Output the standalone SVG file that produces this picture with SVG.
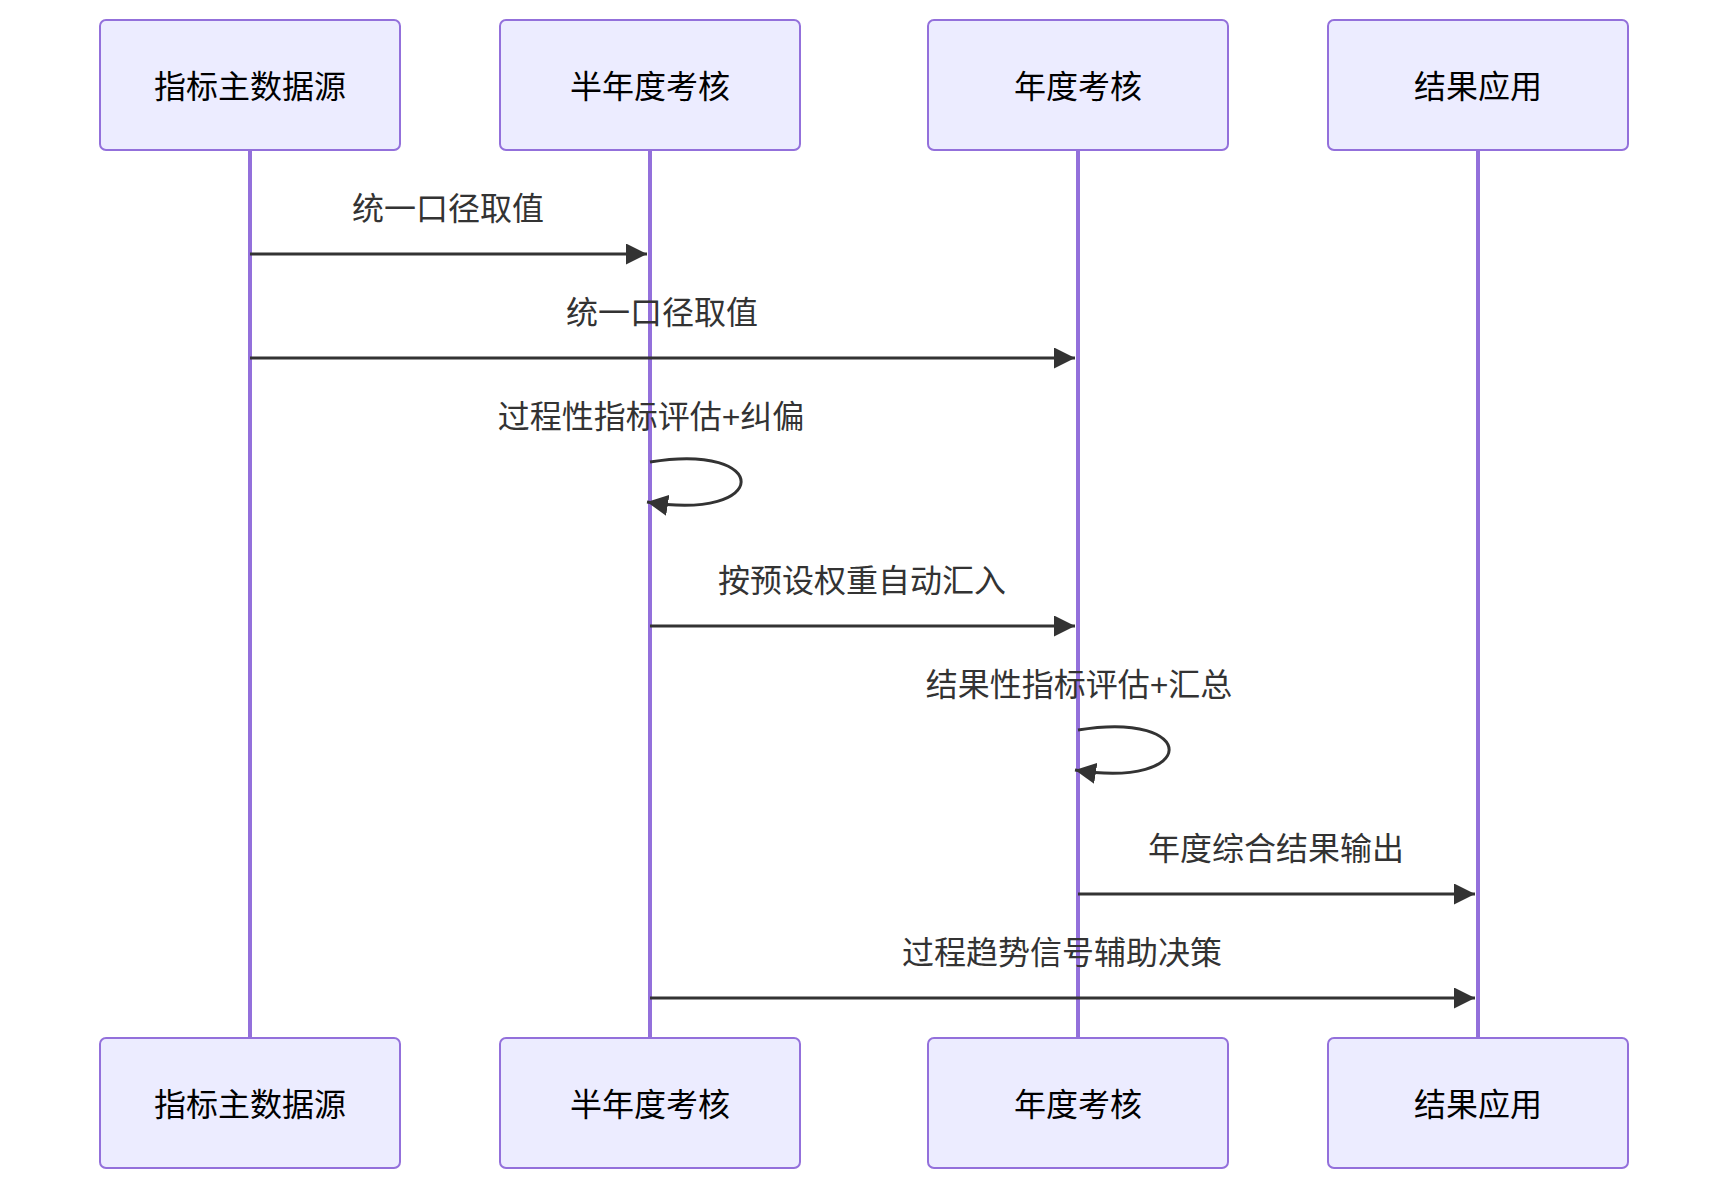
<svg xmlns="http://www.w3.org/2000/svg" width="1728" height="1190" viewBox="0 0 1728 1190">
<style>
.actor{fill:#ECECFF;stroke:#9370DB;stroke-width:2}
.atext{font-family:"Liberation Sans","Noto Sans CJK SC",sans-serif;font-size:32px;fill:#000;text-anchor:middle;dominant-baseline:central}
.life{stroke:#9370DB;stroke-width:4}
.msg{stroke:#333;stroke-width:3;fill:none}
.mtext{font-family:"Liberation Sans","Noto Sans CJK SC",sans-serif;font-size:32px;fill:#333;text-anchor:middle;dominant-baseline:central}
</style>
<defs>
<marker id="arrow" viewBox="0 0 10 10" refX="10" refY="5" markerWidth="21" markerHeight="21" markerUnits="userSpaceOnUse" orient="auto">
<path d="M0,0 L10,5 L0,10 z" fill="#333"/>
</marker>
</defs>
<rect width="1728" height="1190" fill="#fff"/>
<g id="lifelines">
<line class="life" x1="250" y1="150" x2="250" y2="1038"/>
<line class="life" x1="650" y1="150" x2="650" y2="1038"/>
<line class="life" x1="1078" y1="150" x2="1078" y2="1038"/>
<line class="life" x1="1478" y1="150" x2="1478" y2="1038"/>
</g>
<g id="actor-src-top"><rect class="actor" x="100" y="20" width="300" height="130" rx="6"/><text class="atext" x="250" y="87">指标主数据源</text></g>
<g id="actor-half-top"><rect class="actor" x="500" y="20" width="300" height="130" rx="6"/><text class="atext" x="650" y="87">半年度考核</text></g>
<g id="actor-year-top"><rect class="actor" x="928" y="20" width="300" height="130" rx="6"/><text class="atext" x="1078" y="87">年度考核</text></g>
<g id="actor-result-top"><rect class="actor" x="1328" y="20" width="300" height="130" rx="6"/><text class="atext" x="1478" y="87">结果应用</text></g>
<g id="actor-src-bottom"><rect class="actor" x="100" y="1038" width="300" height="130" rx="6"/><text class="atext" x="250" y="1105">指标主数据源</text></g>
<g id="actor-half-bottom"><rect class="actor" x="500" y="1038" width="300" height="130" rx="6"/><text class="atext" x="650" y="1105">半年度考核</text></g>
<g id="actor-year-bottom"><rect class="actor" x="928" y="1038" width="300" height="130" rx="6"/><text class="atext" x="1078" y="1105">年度考核</text></g>
<g id="actor-result-bottom"><rect class="actor" x="1328" y="1038" width="300" height="130" rx="6"/><text class="atext" x="1478" y="1105">结果应用</text></g>
<g id="connectors">
<text class="mtext" x="448" y="209">统一口径取值</text>
<line class="msg" x1="250" y1="254" x2="647" y2="254" marker-end="url(#arrow)"/>
<text class="mtext" x="662" y="313">统一口径取值</text>
<line class="msg" x1="250" y1="358" x2="1075" y2="358" marker-end="url(#arrow)"/>
<text class="mtext" x="651" y="417">过程性指标评估+纠偏</text>
<path class="msg" d="M650,462 C772,442 772,522 647,502" marker-end="url(#arrow)"/>
<text class="mtext" x="862" y="581">按预设权重自动汇入</text>
<line class="msg" x1="650" y1="626" x2="1075" y2="626" marker-end="url(#arrow)"/>
<text class="mtext" x="1079" y="685">结果性指标评估+汇总</text>
<path class="msg" d="M1078,730 C1200,710 1200,790 1075,770" marker-end="url(#arrow)"/>
<text class="mtext" x="1276" y="849">年度综合结果输出</text>
<line class="msg" x1="1078" y1="894" x2="1475" y2="894" marker-end="url(#arrow)"/>
<text class="mtext" x="1062" y="953">过程趋势信号辅助决策</text>
<line class="msg" x1="650" y1="998" x2="1475" y2="998" marker-end="url(#arrow)"/>
</g>
</svg>
